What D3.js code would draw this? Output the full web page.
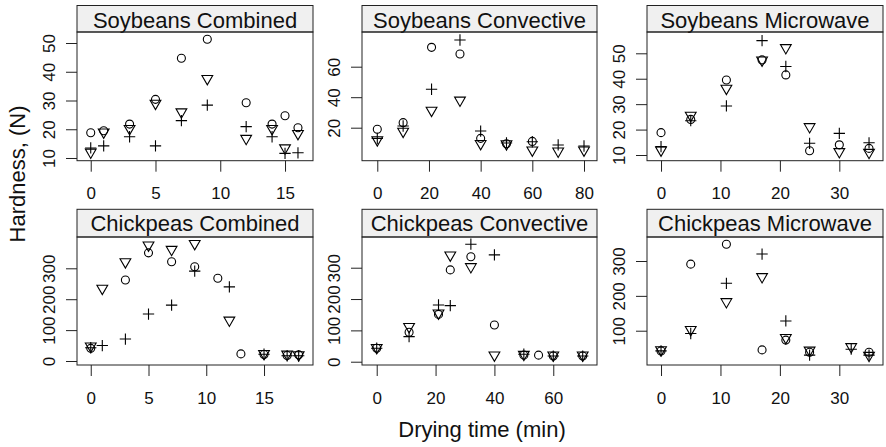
<!DOCTYPE html>
<html>
<head>
<meta charset="utf-8">
<script src="https://cdn.jsdelivr.net/npm/d3@7"></script>
<style>
  body { margin: 0; background: #fff; }
  text { font-family: "Liberation Sans", Arial, sans-serif; fill: #111; }
</style>
</head>
<body>
<svg width="886" height="447"></svg>
<script>
var titles = ["Soybeans Combined", "Soybeans Convective", "Soybeans Microwave",
  "Chickpeas Combined", "Chickpeas Convective", "Chickpeas Microwave"];

// Soybeans Combined
var timesSC = [0, 1, 3, 5, 7, 9, 12, 14, 15, 16];
var circSC = [18.8, 19.5, 21.8, 30.4, 44.7, 51.3, 29.2, 21.8, 24.7, 20.5];
var plusSC = [13.5, 14.2, 17.4, 14.2, 23, 28.4, 20.9, 17.4, 11.6, 11.8];
var triSC = [12, 19, 20.2, 29, 26, 37.6, 16.8, 20.2, 13.5, 18.5];

// Soybeans Convective
var timesSV = [0, 10, 21, 32, 40, 50, 60, 70, 80];
var circSV = [19, 23.3, 72.7, 68.3, 13, 9.5, 11, null, null];
var plusSV = [13, 21.1, 45.2, 77.5, 17.8, 10, 10.8, 8.7, 8];
var triSV = [12, 17.6, 31.4, 38, 9.6, 9.4, 5.3, 4.6, 5.3];

// Soybeans Microwave
var timesSM = [0, 5, 11, 17, 21, 25, 30, 35];
var circSM = [18.8, 24, 39.5, 47.4, 41.5, 11.7, 14, 12.6];
var plusSM = [13.3, 23.5, 29.3, 55, 44.8, 14.6, 18.5, 14.8];
var triSM = [11.9, 25.6, 36.2, 47.3, 52.2, 21.1, 11.3, 11];

// Chickpeas Combined
var timesCC = [0, 1, 3, 5, 7, 9, 11, 12, 13, 15, 17, 18];
var circCC = [41, null, 262, 350, 321, 305, 268, null, 23, 21, 18, 20];
var plusCC = [43, 50, 71, 152, 181, 291, null, 240, null, 22, 17, 17];
var triCC = [48, 235, 321, 375, 361, 380, null, 132, null, 24, 22, 20];

// Chickpeas Convective
var timesCV = [0, 11, 21, 25, 32, 40, 50, 55, 60, 70];
var circCV = [43, 94, 151, 293, 335, 117, 21, 21, 18, 18];
var plusCV = [43, 80, 181, 179, 375, 341, 24, null, 18, 18];
var triCV = [45, 112, 155, 340, 303, 21, 23, null, 21, 21];

// Chickpeas Microwave
var timesCM = [0, 5, 11, 17, 21, 25, 32, 35];
var circCM = [42, 291, 348, 45, 73, 38, null, 38];
var plusCM = [42, 92, 236, 320, 128, 30, 47, 30];
var triCM = [45, 103, 183, 255, 80, 44, 54, 29];

var xTickSets = [[0, 5, 10, 15], [0, 20, 40, 60, 80], [0, 10, 20, 30],
  [0, 5, 10, 15], [0, 20, 40, 60], [0, 10, 20, 30]];
var yTickSets = [[10, 20, 30, 40, 50], [20, 40, 60], [10, 20, 30, 40, 50],
  [0, 100, 200, 300], [0, 100, 200, 300], [100, 200, 300]];

var xDomains = [[-1.06, 17.16], [-5.92, 85.03], [-2.36, 37.35],
  [-1.19, 19.24], [-5.0, 74.86], [-2.36, 37.35]];
var yDomains = [[9.06, 53.83], [-1.64, 82.75], [7.76, 58.38],
  [-12.9, 401.3], [-10.5, 398], [1.6, 368.9]];

var panelData = [
  [timesSC, circSC, plusSC, triSC],
  [timesSV, circSV, plusSV, triSV],
  [timesSM, circSM, plusSM, triSM],
  [timesCC, circCC, plusCC, triCC],
  [timesCV, circCV, plusCV, triCV],
  [timesCM, circCM, plusCM, triCM]
];

var svg = d3.select("svg");
svg.append("rect").attr("width", 886).attr("height", 447).attr("fill", "#fff");

var cols = [[77, 313], [362, 597], [647, 883]];
var rows = [{ strip: 5.5, top: 32, bottom: 160.7 }, { strip: 209.3, top: 237, bottom: 365 }];

var shapes = {
  circ: "M4,0A4,4 0 1,1 -4,0A4,4 0 1,1 4,0Z",
  plus: "M-5.66,0H5.66M0,-5.66V5.66",
  tri: "M-5.39,-3.11L5.39,-3.11L0,6.22Z"
};

panelData.forEach(function(pd, i) {
  var c = cols[i % 3], r = rows[Math.floor(i / 3)];
  var x = d3.scaleLinear().domain(xDomains[i]).range([c[0], c[1]]);
  var y = d3.scaleLinear().domain(yDomains[i]).range([r.bottom, r.top]);
  var g = svg.append("g");

  // strip
  g.append("rect")
    .attr("x", c[0]).attr("y", r.strip)
    .attr("width", c[1] - c[0]).attr("height", r.top - r.strip)
    .attr("fill", "#f0f0f0").attr("stroke", "#222").attr("stroke-width", 1);
  g.append("text")
    .attr("x", (c[0] + c[1]) / 2).attr("y", r.strip + 22)
    .attr("text-anchor", "middle").style("font-size", "22px")
    .text(titles[i]);

  // box
  g.append("rect")
    .attr("x", c[0]).attr("y", r.top)
    .attr("width", c[1] - c[0]).attr("height", r.bottom - r.top)
    .attr("fill", "none").attr("stroke", "#222").attr("stroke-width", 1);

  // axes
  var xa = g.append("g")
    .attr("transform", "translate(0," + r.bottom + ")")
    .call(d3.axisBottom(x).tickValues(xTickSets[i]).tickSize(11).tickPadding(15.5));
  xa.select(".domain").remove();
  xa.selectAll("text").style("font-size", "17px").style("font-family", null);

  var ya = g.append("g")
    .attr("transform", "translate(" + c[0] + ",0)")
    .call(d3.axisLeft(y).tickValues(yTickSets[i]).tickSize(11));
  ya.select(".domain").remove();
  ya.selectAll("text")
    .attr("x", null).attr("dy", null)
    .attr("text-anchor", "middle")
    .attr("transform", "translate(-22,0) rotate(-90)")
    .style("font-size", "17px").style("font-family", null);
  g.selectAll(".tick line").attr("stroke", "#222");

  // points
  var times = pd[0];
  [["circ", pd[1]], ["plus", pd[2]], ["tri", pd[3]]].forEach(function(s) {
    var pts = times.map(function(t, j) { return { t: t, v: s[1][j] }; })
      .filter(function(d) { return d.v != null; });
    g.selectAll("path." + s[0])
      .data(pts)
      .enter()
      .append("path")
      .attr("class", s[0])
      .attr("d", shapes[s[0]])
      .attr("transform", function(d) {
        return "translate(" + x(d.t) + "," + y(d.v) + ")";
      })
      .attr("fill", "none")
      .attr("stroke", "#000")
      .attr("stroke-width", 1.1);
  });
});

svg.append("text")
  .attr("x", 482).attr("y", 437)
  .attr("text-anchor", "middle").style("font-size", "22px")
  .text("Drying time (min)");

svg.append("text")
  .attr("transform", "translate(25,174) rotate(-90)")
  .attr("text-anchor", "middle").style("font-size", "22px")
  .text("Hardness, (N)");
</script>
</body>
</html>
